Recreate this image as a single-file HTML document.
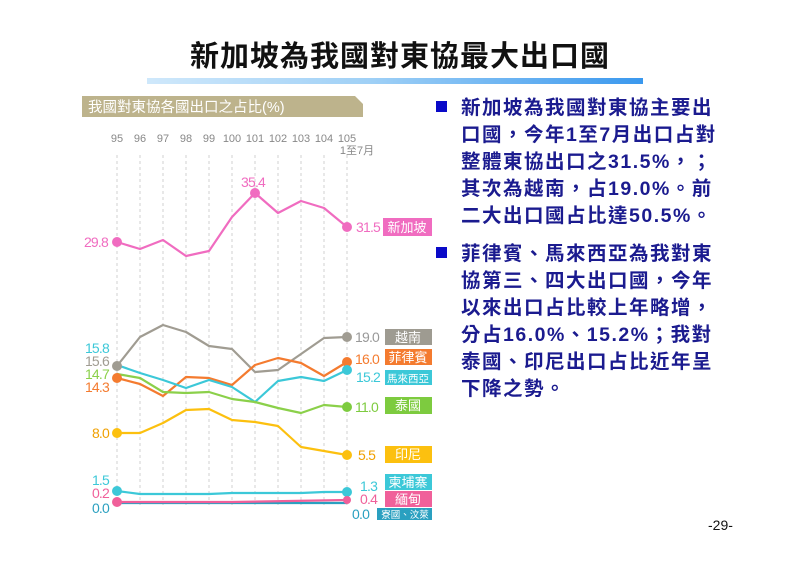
<!DOCTYPE html>
<html><head><meta charset="utf-8"><style>
html,body{margin:0;padding:0;background:#fff;}
body{width:800px;height:566px;overflow:hidden;position:relative;font-family:"Liberation Sans","Noto Sans CJK TC",sans-serif;}
</style></head><body>
<svg width="800" height="566" viewBox="0 0 800 566" xmlns="http://www.w3.org/2000/svg" style="position:absolute;left:0;top:0">
<defs>
<linearGradient id="bar" x1="0" x2="1" y1="0" y2="0">
<stop offset="0" stop-color="#cfe8fb"/><stop offset="0.45" stop-color="#9fd0f6"/><stop offset="1" stop-color="#3a98ee"/>
</linearGradient>
</defs>
<text x="400" y="66" text-anchor="middle" font-family="Liberation Sans,Noto Sans CJK TC,sans-serif" font-size="29" font-weight="bold" fill="#111" letter-spacing="1">新加坡為我國對東協最大出口國</text>
<rect x="147" y="78" width="496" height="6" fill="url(#bar)"/>
<polygon points="82,96 355,96 363,104 363,117 82,117" fill="#bdb38c"/>
<text x="88" y="112" font-size="14.5" fill="#fff" font-family="Liberation Sans,Noto Sans CJK TC,sans-serif">我國對東協各國出口之占比(%)</text>
<g font-size="11" fill="#888" text-anchor="middle" font-family="Liberation Sans,Noto Sans CJK TC,sans-serif">
<text x="117" y="142">95</text><text x="140" y="142">96</text><text x="163" y="142">97</text><text x="186" y="142">98</text><text x="209" y="142">99</text><text x="232" y="142">100</text><text x="255" y="142">101</text><text x="278" y="142">102</text><text x="301" y="142">103</text><text x="324" y="142">104</text><text x="347" y="142">105</text>
<text x="357" y="154">1至7月</text>
</g>
<g stroke="#d0d0d0" stroke-width="1" stroke-dasharray="3,3">
<line x1="117" y1="155" x2="117" y2="505"/><line x1="140" y1="155" x2="140" y2="505"/><line x1="163" y1="155" x2="163" y2="505"/><line x1="186" y1="155" x2="186" y2="505"/><line x1="209" y1="155" x2="209" y2="505"/><line x1="232" y1="155" x2="232" y2="505"/><line x1="255" y1="155" x2="255" y2="505"/><line x1="278" y1="155" x2="278" y2="505"/><line x1="301" y1="155" x2="301" y2="505"/><line x1="324" y1="155" x2="324" y2="505"/><line x1="347" y1="155" x2="347" y2="505"/>
</g>
<g fill="none" stroke-width="2.2" stroke-linejoin="round">
<polyline stroke="#f06cc0" points="117,242 140,249 163,240 186,256 209,251 232,217 255,193 278,213 301,201 324,208 347,227"/>
<polyline stroke="#a09c92" points="117,366 140,337 163,325 186,332 209,346 232,349 255,372 278,370 301,354 324,338 347,337"/>
<polyline stroke="#f47b2f" points="117,378 140,384 163,396 186,377 209,378 232,385 255,365 278,358 301,363 324,376 347,362"/>
<polyline stroke="#3cc8d8" points="117,365 140,373 163,380 186,388 209,380 232,387 255,402 278,381 301,377 324,381 347,370"/>
<polyline stroke="#8bd04a" points="117,374 140,378 163,392 186,393 209,392 232,399 255,402 278,408 301,413 324,405 347,407"/>
<polyline stroke="#fcc00f" points="117,433 140,433 163,423 186,410 209,409 232,420 255,422 278,426 301,447 324,451 347,455"/>
<polyline stroke="#3cc8d8" points="117,491 140,494 163,494 186,494 209,494 232,493 255,493 278,493 301,493 324,492 347,492"/>
<polyline stroke="#2aa0c0" points="117,503 347,503"/>
<polyline stroke="#f0609a" points="117,502 232,502 347,500"/>
</g>
<g>
<circle cx="117" cy="242" r="5" fill="#f06cc0"/><circle cx="255" cy="193" r="5" fill="#f06cc0"/><circle cx="347" cy="227" r="5" fill="#f06cc0"/>
<circle cx="117" cy="366" r="5" fill="#a09c92"/><circle cx="347" cy="337" r="5" fill="#a09c92"/>
<circle cx="117" cy="378" r="5" fill="#f47b2f"/><circle cx="347" cy="362" r="5" fill="#f47b2f"/>
<circle cx="347" cy="370" r="5" fill="#3cc8d8"/>
<circle cx="347" cy="407" r="5" fill="#7dcb3f"/>
<circle cx="117" cy="433" r="5" fill="#fcc00f"/><circle cx="347" cy="455" r="5" fill="#fcc00f"/>
<circle cx="117" cy="491" r="5" fill="#3cc8d8"/><circle cx="347" cy="492" r="5" fill="#3cc8d8"/>
<circle cx="117" cy="502" r="5" fill="#f0609a"/><circle cx="347" cy="500" r="4" fill="#f0609a"/>
</g>
<g font-size="14" font-family="Liberation Sans,sans-serif" letter-spacing="-0.8">
<text x="108" y="247" text-anchor="end" fill="#f06cc0">29.8</text>
<text x="253" y="187" text-anchor="middle" fill="#f06cc0">35.4</text>
<text x="356" y="232" fill="#f06cc0">31.5</text>
<text x="109" y="353" text-anchor="end" fill="#3cc8d8">15.8</text>
<text x="109" y="366" text-anchor="end" fill="#a09c92">15.6</text>
<text x="109" y="379" text-anchor="end" fill="#8bd04a">14.7</text>
<text x="109" y="392" text-anchor="end" fill="#f47b2f">14.3</text>
<text x="109" y="438" text-anchor="end" fill="#f0a000">8.0</text>
<text x="109" y="485" text-anchor="end" fill="#3cc8d8">1.5</text>
<text x="109" y="498" text-anchor="end" fill="#f0609a">0.2</text>
<text x="109" y="513" text-anchor="end" fill="#2aa0c0">0.0</text>
<text x="355" y="342" fill="#999">19.0</text>
<text x="355" y="364" fill="#f47b2f">16.0</text>
<text x="356" y="382" fill="#3cc8d8">15.2</text>
<text x="355" y="412" fill="#7dcb3f">11.0</text>
<text x="358" y="460" fill="#f0a000">5.5</text>
<text x="360" y="491" fill="#3cc8d8">1.3</text>
<text x="360" y="504" fill="#f0609a">0.4</text>
<text x="352" y="519" fill="#2aa0c0">0.0</text>
</g>
<g font-family="Liberation Sans,Noto Sans CJK TC,sans-serif" fill="#fff" text-anchor="middle">
<rect x="383" y="218" width="49" height="18" fill="#f06cc0"/><text x="407" y="232" font-size="13">新加坡</text>
<rect x="385" y="329" width="47" height="16" fill="#9e9b91"/><text x="408" y="342" font-size="13">越南</text>
<rect x="385" y="349" width="47" height="16" fill="#f47b2f"/><text x="408" y="362" font-size="13">菲律賓</text>
<rect x="385" y="370" width="47" height="15" fill="#3cc8d8"/><text x="408" y="382" font-size="10.5">馬來西亞</text>
<rect x="385" y="397" width="47" height="17" fill="#7dcb3f"/><text x="408" y="410" font-size="13">泰國</text>
<rect x="385" y="446" width="47" height="17" fill="#fcc00f"/><text x="408" y="459" font-size="13">印尼</text>
<rect x="385" y="474" width="47" height="16" fill="#3cc8d8"/><text x="408" y="487" font-size="13">柬埔寨</text>
<rect x="385" y="491" width="47" height="16" fill="#f0609a"/><text x="408" y="504" font-size="13">緬甸</text>
<rect x="377" y="508" width="55" height="12" fill="#2aa0c0"/><text x="405" y="518" font-size="9.5">寮國、汶萊</text>
</g>
<g font-family="Liberation Sans,Noto Sans CJK TC,sans-serif" font-size="19.5" font-weight="bold" fill="#1b1b8f" letter-spacing="1.5">
<rect x="436" y="101" width="11" height="11" fill="#0a0ac8"/>
<text x="461" y="114">新加坡為我國對東協主要出</text>
<text x="461" y="141">口國，今年1至7月出口占對</text>
<text x="461" y="168">整體東協出口之31.5%，；</text>
<text x="461" y="195">其次為越南，占19.0%。前</text>
<text x="461" y="222">二大出口國占比達50.5%。</text>
<rect x="436" y="247" width="11" height="11" fill="#0a0ac8"/>
<text x="461" y="260">菲律賓、馬來西亞為我對東</text>
<text x="461" y="287">協第三、四大出口國，今年</text>
<text x="461" y="314">以來出口占比較上年略增，</text>
<text x="461" y="341">分占16.0%、15.2%；我對</text>
<text x="461" y="368">泰國、印尼出口占比近年呈</text>
<text x="461" y="395">下降之勢。</text>
</g>
<text x="708" y="530" font-family="Liberation Sans,sans-serif" font-size="14" fill="#111">-29-</text>
</svg>
</body></html>
